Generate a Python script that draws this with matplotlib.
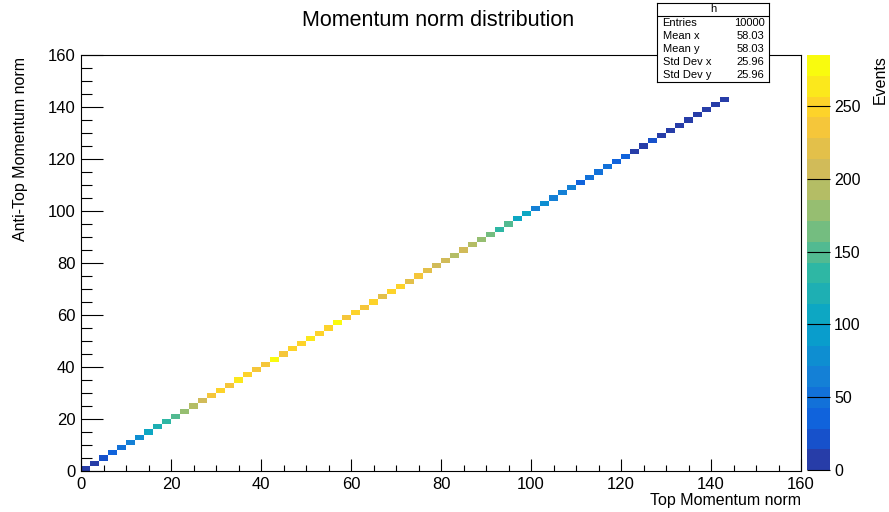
import numpy as np
import matplotlib
matplotlib.use('Agg')
import matplotlib.pyplot as plt
from matplotlib.colors import LinearSegmentedColormap, ListedColormap, BoundaryNorm
from matplotlib.ticker import MultipleLocator

plt.rcParams['font.family'] = ['Liberation Sans', 'DejaVu Sans']

# Contenido de los bins de la diagonal (ancho 2)
diag_counts = [9, 12, 22, 36, 50, 64, 78, 107, 121, 135, 150, 178, 192, 206, 235, 249, 235, 268,
               250, 236, 234, 285, 238, 252, 248, 262, 250, 246, 276, 237, 251, 234, 252, 222, 250, 248,
               222, 236, 220, 207, 204, 192, 206, 190, 178, 164, 135, 150, 107, 105, 64, 78, 65, 62,
               64, 36, 48, 50, 47, 35, 33, 12, 13, 22, 11, 10, 12, 9, 11, 10, 8, 9]
n_bins = 80
x_min, x_max = 0, 160
z_max = 285

stats_labels = ['Entries', 'Mean x', 'Mean y', 'Std Dev x', 'Std Dev y']
stats_values = ['10000', '58.03', '58.03', '25.96', '25.96']

# Paleta kBird de ROOT
stops = [0.0, 0.125, 0.25, 0.375, 0.5, 0.625, 0.75, 0.875, 1.0]
red = [0.2082, 0.0592, 0.0780, 0.0232, 0.1802, 0.5301, 0.8186, 0.9956, 0.9764]
green = [0.1664, 0.3599, 0.5041, 0.6419, 0.7178, 0.7492, 0.7328, 0.7862, 0.9832]
blue = [0.5293, 0.8684, 0.8385, 0.7914, 0.6425, 0.4662, 0.3499, 0.1968, 0.0539]
bird = LinearSegmentedColormap.from_list(
    'bird', [(s, (r, g, b)) for s, r, g, b in zip(stops, red, green, blue)], N=255)
n_levels = 20
level_colors = [bird(int((i + 0.99) * 255 / n_levels) / 254) for i in range(n_levels)]
cmap = ListedColormap(level_colors)
levels = np.linspace(0, z_max, n_levels + 1)
norm = BoundaryNorm(levels, n_levels, clip=True)

edges = np.linspace(x_min, x_max, n_bins + 1)
H = np.full((n_bins, n_bins), np.nan)
for i, c in enumerate(diag_counts):
    H[i, i] = c
H = np.ma.masked_invalid(H)

fig = plt.figure(figsize=(8.89, 5.12), dpi=100)
W, Hpx = 889, 512
ax = fig.add_axes([81 / W, 1 - 471 / Hpx, 720 / W, 416 / Hpx])
mesh = ax.pcolormesh(edges, edges, H, cmap=cmap, norm=norm)
ax.set_xlim(x_min, x_max)
ax.set_ylim(x_min, x_max)
ax.set_xticks(np.arange(0, 161, 20))
ax.set_yticks(np.arange(0, 161, 20))
ax.xaxis.set_minor_locator(MultipleLocator(5))
ax.yaxis.set_minor_locator(MultipleLocator(5))
ax.tick_params(axis='x', which='major', direction='in', length=8.8, width=0.8, labelsize=12, pad=4)
ax.tick_params(axis='x', which='minor', direction='in', length=4.4, width=0.8)
ax.tick_params(axis='y', which='major', direction='in', length=15.6, width=0.8, labelsize=12, pad=4)
ax.tick_params(axis='y', which='minor', direction='in', length=7.8, width=0.8)
for sp in ax.spines.values():
    sp.set_linewidth(0.8)

# Barra de colores
cax = fig.add_axes([807 / W, 1 - 470 / Hpx, 23 / W, 415 / Hpx])
cb = fig.colorbar(mesh, cax=cax, ticks=np.arange(0, 251, 50))
cb.outline.set_visible(False)
cax.tick_params(direction='in', length=23 * 0.72, width=0.8, labelsize=11.5, pad=3, color='black')
cax.minorticks_off()

# Textos
fig.text(438 / W, 1 - 20 / Hpx, 'Momentum norm distribution', fontsize=15.5, ha='center', va='center')
fig.text(801 / W, 1 - 500 / Hpx, 'Top Momentum norm', fontsize=11.5, ha='right', va='center')
fig.text(21 / W, 1 - 57 / Hpx, 'Anti-Top Momentum norm', fontsize=11.5, rotation=90, ha='center', va='top')
fig.text(880 / W, 1 - 55 / Hpx, 'Events', fontsize=11.5, rotation=90, ha='center', va='top')

# Caja de estadísticas
bx0, bx1, by0, by1 = 657, 769, 3, 82
box = fig.add_axes([bx0 / W, 1 - by1 / Hpx, (bx1 - bx0) / W, (by1 - by0) / Hpx])
box.set_xlim(0, 1)
box.set_ylim(0, 1)
box.set_xticks([])
box.set_yticks([])
box.set_facecolor('white')
for sp in box.spines.values():
    sp.set_linewidth(0.8)
header_h = 13 / (by1 - by0)
box.axhline(1 - header_h, color='black', lw=0.8)
box.text(0.5, 1 - header_h / 2, 'h', fontsize=8, ha='center', va='center')
row_h = (1 - header_h) / len(stats_labels)
for k, (lab, val) in enumerate(zip(stats_labels, stats_values)):
    yy = 1 - header_h - row_h * (k + 0.5)
    box.text(0.05, yy, lab, fontsize=8, ha='left', va='center')
    box.text(0.96, yy, val, fontsize=8, ha='right', va='center')

fig.savefig('out.png', dpi=100)
